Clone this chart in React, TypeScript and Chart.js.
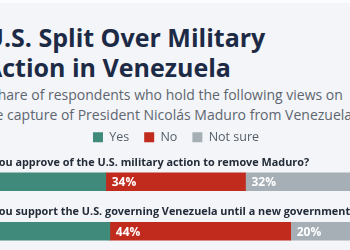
import React, { useEffect, useRef } from "react";
import { Chart, registerables } from "chart.js";

Chart.register(...registerables);

const titleLines = ["U.S. Split Over Military", "Action in Venezuela"];
const subtitleLines = [
  "Share of respondents who hold the following views on",
  "the capture of President Nicolás Maduro from Venezuela",
];
const questions = [
  "Do you approve of the U.S. military action to remove Maduro?",
  "Do you support the U.S. governing Venezuela until a new government forms?",
];
const seriesNames = ["Yes", "No", "Not sure"];
const yesValues = [34, 35];
const noValues = [34, 44];
const notSureValues = [32, 20];
const seriesColors = ["#3f8a7b", "#c02b1d", "#a7afb6"];

const FONT = "'Open Sans', 'Noto Sans', sans-serif";

const labelPlugin = {
  id: "barLabels",
  afterDatasetsDraw(chart: any) {
    const { ctx, chartArea } = chart;
    ctx.save();
    const meta0 = chart.getDatasetMeta(0);
    ctx.font = `bold 10.85px ${FONT}`;
    ctx.fillStyle = "#232b38";
    ctx.textAlign = "left";
    ctx.textBaseline = "alphabetic";
    meta0.data.forEach((bar: any, i: number) => {
      const p = bar.getProps(["y", "height"], true);
      ctx.fillText(chart.data.labels[i], chartArea.left + 9, p.y - p.height / 2 - 7);
    });
    ctx.font = `bold 12px ${FONT}`;
    ctx.fillStyle = "#ffffff";
    ctx.textBaseline = "middle";
    chart.data.datasets.forEach((ds: any, di: number) => {
      const meta = chart.getDatasetMeta(di);
      meta.data.forEach((bar: any, i: number) => {
        const p = bar.getProps(["x", "y", "base"], true);
        const left = Math.min(p.x, p.base);
        ctx.fillText(ds.data[i] + "%", left + 6, p.y + 1);
      });
    });
    ctx.restore();
  },
};

export default function App() {
  const canvasRef = useRef<HTMLCanvasElement | null>(null);

  useEffect(() => {
    if (!canvasRef.current) return;
    const values = [yesValues, noValues, notSureValues];
    const chart = new Chart(canvasRef.current, {
      type: "bar",
      data: {
        labels: questions,
        datasets: seriesNames.map((name, i) => ({
          label: name,
          data: values[i],
          backgroundColor: seriesColors[i],
          borderColor: seriesColors[i],
          borderWidth: 0,
          barThickness: 18,
        })),
      },
      options: {
        indexAxis: "y",
        animation: false,
        responsive: true,
        maintainAspectRatio: false,
        layout: { padding: 0 },
        scales: {
          x: {
            stacked: true,
            min: 0,
            max: 100,
            position: "top",
            grid: { display: false },
            border: { display: false },
            ticks: { display: false },
            afterFit: (s: any) => {
              s.height = 3.5;
            },
          },
          y: {
            stacked: true,
            position: "right",
            grid: { display: false },
            border: { display: false },
            ticks: { display: false },
            afterFit: (s: any) => {
              s.width = 9;
            },
          },
        },
        plugins: {
          legend: {
            position: "top",
            labels: {
              boxWidth: 10,
              boxHeight: 10,
              padding: 15,
              color: "#555e69",
              font: { family: FONT, size: 12.5 },
            },
          },
          tooltip: { enabled: false },
        },
      },
      plugins: [labelPlugin],
    });
    let alive = true;
    (document as any).fonts?.ready?.then(() => {
      if (alive) chart.update();
    });
    return () => {
      alive = false;
      chart.destroy();
    };
  }, []);

  return (
    <div
      style={{
        position: "fixed",
        left: 0,
        top: 0,
        width: 350,
        height: 250,
        overflow: "hidden",
        background: "#f3f5f8",
        fontFamily: FONT,
      }}
    >
      <div style={{ position: "absolute", left: 0, top: 0, width: 350, height: 3, background: "#fbfcfd" }} />
      <div
        style={{
          position: "absolute",
          left: -15,
          top: 22,
          fontSize: 25,
          lineHeight: "30px",
          fontWeight: 700,
          color: "#1d2a45",
          whiteSpace: "nowrap",
        }}
      >
        {titleLines.map((t) => (
          <div key={t}>{t}</div>
        ))}
      </div>
      <div
        style={{
          position: "absolute",
          left: -10,
          top: 85,
          fontSize: 14,
          lineHeight: "20px",
          color: "#5e6570",
          whiteSpace: "nowrap",
        }}
      >
        <div>{subtitleLines[0]}</div>
        <div style={{ marginLeft: -8 }}>{subtitleLines[1]}</div>
      </div>
      <div style={{ position: "absolute", left: -34, top: 116, width: 420, height: 140 }}>
        <canvas ref={canvasRef} />
      </div>
    </div>
  );
}
